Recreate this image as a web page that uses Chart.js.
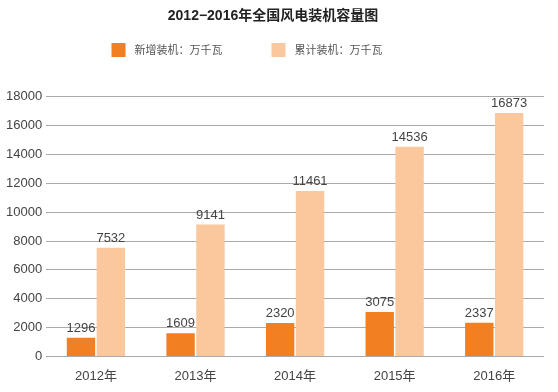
<!DOCTYPE html>
<html>
<head>
<meta charset="utf-8">
<script src="https://cdn.jsdelivr.net/npm/chart.js@4/dist/chart.umd.min.js"></script>
<style>
  html, body { margin: 0; padding: 0; background: #fff; }
  #wrap { width: 558px; height: 392px; }
</style>
</head>
<body>
<div id="wrap"><canvas id="chart1"></canvas></div>
<script>
// data
const years = ['2012年', '2013年', '2014年', '2015年', '2016年'];
const newInstalled = [1296, 1609, 2320, 3075, 2337];
const totalInstalled = [7532, 9141, 11461, 14536, 16873];
const yTicks = [0, 2000, 4000, 6000, 8000, 10000, 12000, 14000, 16000, 18000];

const FONT = '"Liberation Sans", Arial, "Noto Sans CJK SC", sans-serif';

// draw the number above every bar
const valueLabels = {
    id: 'valueLabels',
    afterDatasetsDraw(chart) {
        const ctx = chart.ctx;
        ctx.save();
        ctx.font = '13px ' + FONT;
        ctx.fillStyle = '#444';
        ctx.textAlign = 'center';
        ctx.textBaseline = 'bottom';
        chart.data.datasets.forEach((ds, i) => {
            chart.getDatasetMeta(i).data.forEach((bar, j) => {
                ctx.fillText(ds.data[j], bar.x, bar.y - 3);
            });
        });
        ctx.restore();
    }
};

// legend row under the title, drawn by hand so the spacing can be wide
const legendRow = {
    id: 'legendRow',
    afterDraw(chart) {
        const ctx = chart.ctx;
        const box = 14, gap = 9, space = 49, y = 50;
        ctx.save();
        ctx.font = '11px "Noto Sans CJK SC", sans-serif';
        ctx.textBaseline = 'middle';
        const items = chart.data.datasets.map(ds => ({
            text: ds.label, color: ds.backgroundColor, w: box + gap + ctx.measureText(ds.label).width
        }));
        let total = items.reduce((s, it) => s + it.w, 0) + space * (items.length - 1);
        let x = chart.width / 2 - total / 2 - 32;
        items.forEach(it => {
            ctx.fillStyle = it.color;
            ctx.fillRect(x, y - box / 2, box, box);
            ctx.fillStyle = '#555';
            ctx.fillText(it.text, x + box + gap, y);
            x += it.w + space;
        });
        ctx.restore();
    }
};

window.onload = function () {
    let chart1 = document.getElementById('chart1').getContext('2d');

    new Chart(chart1, {
        type: 'bar',
        data: {
            labels: years,
            datasets: [{
                label: '新增装机：万千瓦',
                data: newInstalled,
                backgroundColor: '#f27f22'
            },
            {
                label: '累计装机：万千瓦',
                data: totalInstalled,
                backgroundColor: '#fbc79c'
            }]
        },
        options: {
            responsive: true,
            maintainAspectRatio: false,
            animation: false,
            layout: { padding: { top: 6, right: 14, left: 2, bottom: -4 } },
            datasets: {
                bar: { categoryPercentage: 0.6, barPercentage: 0.95 }
            },
            plugins: {
                title: {
                    display: true,
                    text: '2012−2016年全国风电装机容量图',
                    color: '#222',
                    font: { family: '"Liberation Sans", "Noto Sans CJK SC", sans-serif', size: 14, weight: 'bold' },
                    padding: { top: 2, bottom: 72 }
                },
                legend: { display: false },
                tooltip: { enabled: false }
            },
            scales: {
                x: {
                    grid: { display: false, drawTicks: false },
                    border: { display: false },
                    ticks: { color: '#444', font: { family: FONT, size: 13 }, padding: 12 }
                },
                y: {
                    min: 0,
                    max: 18000,
                    afterBuildTicks(axis) {
                        axis.ticks = yTicks.map(v => ({ value: v }));
                    },
                    grid: { color: '#aaa', drawTicks: false },
                    border: { display: false },
                    ticks: {
                        color: '#444',
                        font: { family: FONT, size: 13 },
                        padding: 4,
                        callback: v => String(v)
                    }
                }
            }
        },
        plugins: [valueLabels, legendRow]
    });
};
</script>
</body>
</html>
